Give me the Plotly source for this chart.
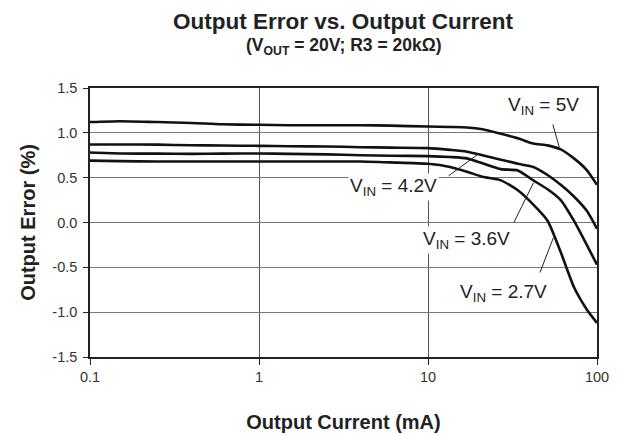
import math
import plotly.graph_objects as go

current_ma = [0.1, 0.15, 0.25, 0.4, 0.6, 1, 1.5, 2.5, 4, 6, 10, 13.5, 17, 21, 27, 34, 42, 51, 61, 73, 87, 100]
err_5v = [1.12, 1.13, 1.12, 1.11, 1.095, 1.09, 1.085, 1.085, 1.085, 1.08, 1.07, 1.065, 1.06, 1.04, 0.99, 0.94, 0.88, 0.86, 0.815, 0.715, 0.585, 0.42]
err_42v = [0.87, 0.87, 0.868, 0.862, 0.858, 0.855, 0.85, 0.848, 0.84, 0.835, 0.83, 0.81, 0.79, 0.75, 0.70, 0.655, 0.62, 0.53, 0.42, 0.29, 0.13, -0.07]
err_36v = [0.78, 0.77, 0.768, 0.765, 0.768, 0.77, 0.765, 0.76, 0.75, 0.745, 0.74, 0.73, 0.715, 0.66, 0.595, 0.58, 0.47, 0.37, 0.25, 0.02, -0.25, -0.47]
err_27v = [0.69, 0.685, 0.68, 0.68, 0.68, 0.68, 0.68, 0.68, 0.68, 0.67, 0.655, 0.62, 0.567, 0.51, 0.47, 0.36, 0.20, 0.02, -0.33, -0.72, -0.97, -1.12]

series = [("V_IN = 5V", err_5v), ("V_IN = 4.2V", err_42v), ("V_IN = 3.6V", err_36v), ("V_IN = 2.7V", err_27v)]

# label text, label position (x, y), pointer tail (x, y), pointer head (x, y)
labels = ["V<sub>IN</sub> = 5V", "V<sub>IN</sub> = 4.2V", "V<sub>IN</sub> = 3.6V", "V<sub>IN</sub> = 2.7V"]
label_x = [48.1, 6.21, 16.8, 27.9]
label_y = [1.30, 0.396, -0.195, -0.785]
tail_x = [54.5, 12.97, 31.9, 45.6]
tail_y = [1.11, 0.508, -0.016, -0.574]
head_x = [59.8, 19.5, 42.0, 55.2]
head_y = [0.84, 0.753, 0.44, -0.17]

x_ticks = [0.1, 1, 10, 100]
x_ticktext = ["0.1", "1", "10", "100"]
y_ticks = [-1.5, -1.0, -0.5, 0.0, 0.5, 1.0, 1.5]
y_ticktext = ["-1.5", "-1.0", "-0.5", "0.0", "0.5", "1.0", "1.5"]

FONT = "Liberation Sans, Arial, sans-serif"

fig = go.Figure()
for name, vals in series:
    fig.add_trace(go.Scatter(x=current_ma, y=vals, mode="lines", name=name,
                             line=dict(color="#111111", width=2.6, shape="spline", smoothing=0.6),
                             showlegend=False, hoverinfo="skip"))

annotations = []
for i in range(len(labels)):
    annotations.append(dict(x=math.log10(head_x[i]), y=head_y[i], ax=math.log10(tail_x[i]), ay=tail_y[i],
                            xref="x", yref="y", axref="x", ayref="y", text="", showarrow=True,
                            arrowhead=0, arrowwidth=1, arrowcolor="#222222", standoff=0, startstandoff=0))
    annotations.append(dict(x=math.log10(label_x[i]), y=label_y[i], xref="x", yref="y", text=labels[i],
                            showarrow=False, bgcolor="white", borderpad=1,
                            font=dict(family=FONT, size=19, color="#222222")))

annotations.append(dict(x=0.5, y=1.0, xref="paper", yref="paper", yanchor="middle", yshift=67,
                        text="<b>Output Error vs. Output Current</b>", showarrow=False,
                        font=dict(family=FONT, size=22.5, color="#222222")))
annotations.append(dict(x=0.5, y=1.0, xref="paper", yref="paper", yanchor="middle", yshift=42,
                        text="<b>(V<sub>OUT</sub> = 20V; R3 = 20kΩ)</b>", showarrow=False,
                        font=dict(family=FONT, size=17.5, color="#222222")))

fig.update_layout(
    width=622, height=435,
    margin=dict(l=90, r=25, t=88, b=78),
    paper_bgcolor="white", plot_bgcolor="white",
    annotations=annotations,
    font=dict(family=FONT, color="#222222"),
)
fig.update_xaxes(type="log", range=[-1, 2], tickvals=x_ticks, ticktext=x_ticktext,
                 showgrid=True, gridcolor="#555555", gridwidth=1, automargin=False,
                 showline=True, linecolor="#222222", linewidth=1.5, mirror=True,
                 ticks="outside", ticklen=6, tickcolor="#222222",
                 tickfont=dict(size=14.5, color="#333333"),
                 title=dict(text="<b>Output Current (mA)</b>", font=dict(size=20, color="#222222"), standoff=31),
                 zeroline=False)
fig.update_yaxes(range=[-1.5, 1.5], tickvals=y_ticks, ticktext=y_ticktext,
                 showgrid=True, gridcolor="#777777", gridwidth=1, automargin=False,
                 showline=True, linecolor="#222222", linewidth=1.5, mirror=True,
                 ticks="outside", ticklen=5, tickcolor="#222222", ticklabelstandoff=3,
                 tickfont=dict(size=14.5, color="#333333"),
                 title=dict(text="<b>Output Error (%)</b>", font=dict(size=20, color="#222222"), standoff=11),
                 zeroline=False)

fig.write_html("out.html", config={"displayModeBar": False},
               post_script="document.body.style.margin='0';document.body.style.overflow='hidden';")
